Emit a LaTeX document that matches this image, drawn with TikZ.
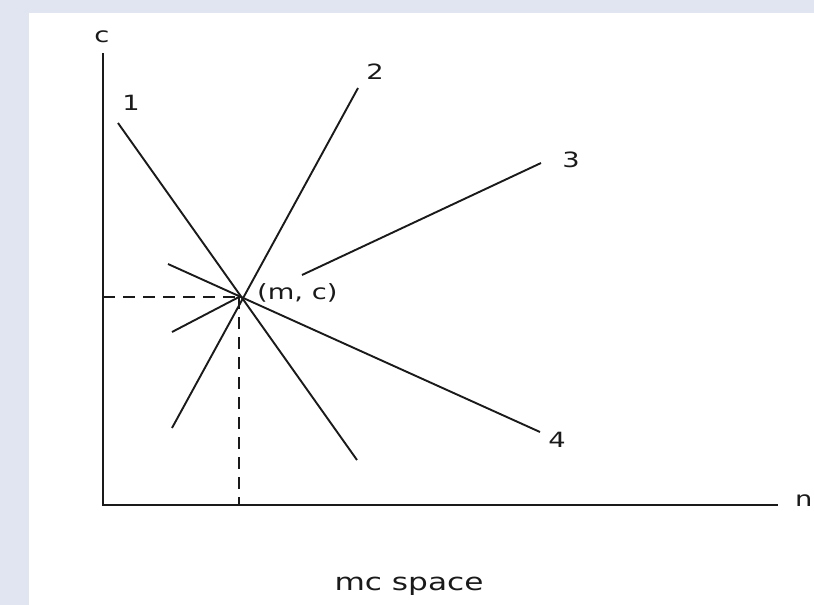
\documentclass[tikz,border=0pt]{standalone}
\usepackage{fontspec}
\setmainfont{DejaVu Sans}[FakeStretch=1.3]
\definecolor{bgc}{HTML}{E1E5F1}
\definecolor{ink}{HTML}{1A1A1A}
\begin{document}
\begin{tikzpicture}[x=1pt,y=-1pt,
  lbl/.style={font=\fontsize{21}{25}\selectfont, inner sep=0pt, text=ink},
  ln/.style={line width=1.9pt, draw=ink},
  ax/.style={line width=2.3pt, draw=ink},
  dsh/.style={line width=1.5pt, draw=ink, dash pattern=on 12pt off 8pt}]
\useasboundingbox (0,0) rectangle (814,605);
\fill[bgc] (0,0) rectangle (814,605);
\fill[white] (29,13) rectangle (814,605);
% coordinates
\coordinate (O) at (103,505);
\coordinate (Ytop) at (103,53);
\coordinate (Xend) at (778,505);
\coordinate (P) at (239,297);
\coordinate (Px) at (103,297);
\coordinate (Py) at (239,505);
\coordinate (A1) at (118,123);
\coordinate (B1) at (357,460);
\coordinate (A2) at (172,428);
\coordinate (B2) at (358,88);
\coordinate (A3) at (172,332);
\coordinate (C3) at (302,275);
\coordinate (B3) at (541,163);
\coordinate (A4) at (168,264);
\coordinate (B4) at (540,432);
% axes
\draw[ax] (Ytop) -- (O) -- (Xend);
% dashed projections
\draw[dsh] (Px) -- (P);
\draw[dsh] (P) -- (Py);
% lines
\draw[ln] (A1) -- (B1);
\draw[ln] (A2) -- (B2);
\draw[ln] (A3) -- (P);
\draw[ln] (C3) -- (B3);
\draw[ln] (A4) -- (B4);
% labels
\node[lbl] (lc) at (102,37) {c};
\node[lbl, anchor=west] (ln) at (795,501) {n};
\node[lbl] (l1) at (131,103) {1};
\node[lbl] (l2) at (375,72) {2};
\node[lbl] (l3) at (571,160) {3};
\node[lbl] (l4) at (557,440) {4};
\node[lbl, anchor=west] (lmc) at (257,293) {(m, c)};
\node[lbl, font=\fontsize{24}{28}\selectfont, anchor=base] (lsp) at (409,590) {mc space};
\end{tikzpicture}
\end{document}
